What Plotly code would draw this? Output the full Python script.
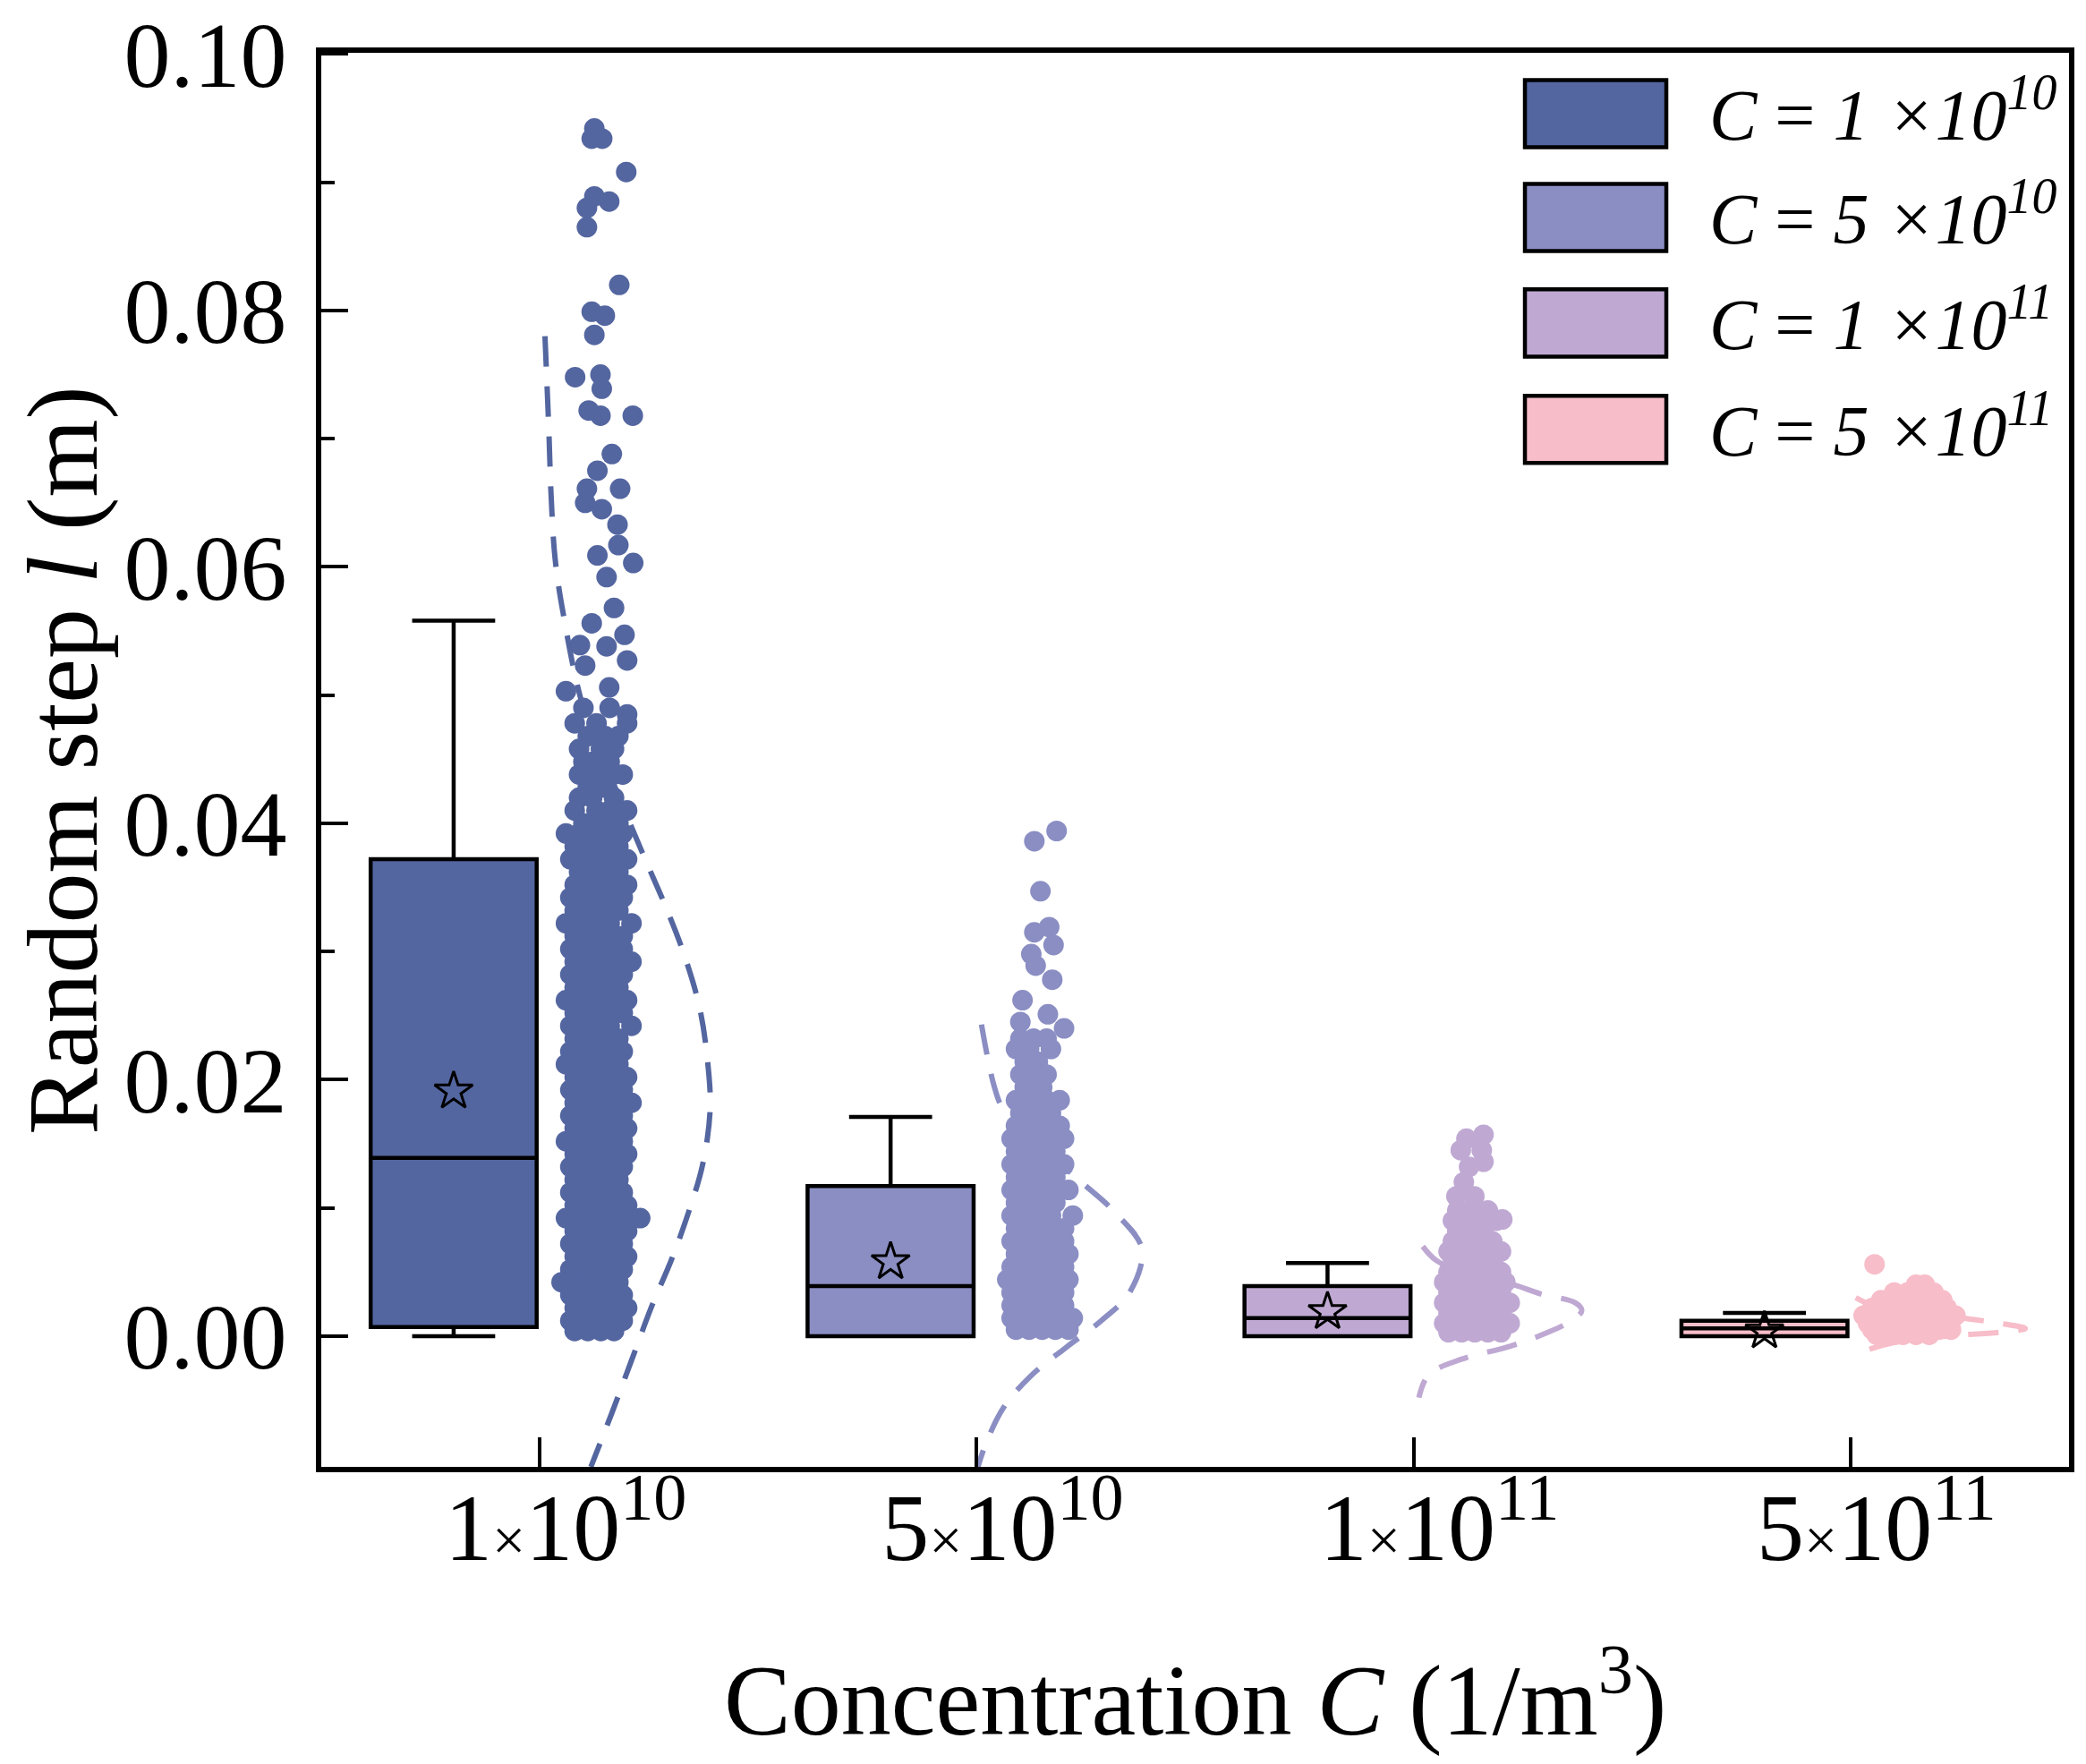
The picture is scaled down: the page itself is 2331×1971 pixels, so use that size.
import plotly.graph_objects as go

# categories: C = mantissa x 10^exponent (1/m^3)
mantissa = [1, 5, 1, 5]
exponent = [10, 10, 11, 11]
colors = ['#5466A0', '#8A8EC3', '#BFA9D3', '#F7BDC9']

# box statistics (m)
q1 = [0.0007, 0.0, 0.0, 0.0]
median = [0.0139, 0.0039, 0.0014, 0.0006]
q3 = [0.0372, 0.0117, 0.0039, 0.0012]
lower = [0.0, 0.0, 0.0, 0.0]
upper = [0.0558, 0.0171, 0.0057, 0.0018]
means = [0.0191, 0.0058, 0.0019, 0.0004]

# raw points, (offset from category, value); sparse tails point by point,
# dense cores row by row: (value, offsets...)
tail1 = [(0.125, 0.0942), (0.143, 0.0934), (0.119, 0.0934), (0.198, 0.0908),
         (0.125, 0.0889), (0.159, 0.0885), (0.108, 0.0880), (0.108, 0.0865),
         (0.182, 0.0820), (0.119, 0.0799), (0.149, 0.0796), (0.125, 0.0781),
         (0.081, 0.0748), (0.139, 0.0750), (0.142, 0.0739), (0.112, 0.0722),
         (0.139, 0.0718), (0.213, 0.0718), (0.165, 0.0688), (0.132, 0.0675),
         (0.184, 0.0661), (0.108, 0.0661), (0.104, 0.0650), (0.142, 0.0645),
         (0.178, 0.0633), (0.180, 0.0617), (0.132, 0.0609), (0.214, 0.0603),
         (0.153, 0.0592), (0.170, 0.0568), (0.119, 0.0556), (0.194, 0.0547),
         (0.092, 0.0539), (0.153, 0.0538), (0.200, 0.0527), (0.104, 0.0523),
         (0.060, 0.0503), (0.159, 0.0506), (0.200, 0.0485)]
core1 = [(0.0490, 0.10, 0.16), (0.0478, 0.08, 0.13, 0.20), (0.0468, 0.11, 0.15, 0.18),
         (0.0458, 0.09, 0.14, 0.17), (0.0448, 0.10, 0.12, 0.16), (0.0438, 0.09, 0.13, 0.17, 0.19),
         (0.0428, 0.11, 0.15), (0.0420, 0.09, 0.12, 0.17), (0.0410, 0.08, 0.13, 0.16, 0.20),
         (0.0400, 0.10, 0.14, 0.18), (0.0392, 0.06, 0.09, 0.12, 0.16, 0.19),
         (0.0382, 0.08, 0.11, 0.15, 0.18), (0.0372, 0.07, 0.10, 0.13, 0.17, 0.20),
         (0.0362, 0.09, 0.12, 0.15, 0.18), (0.0352, 0.08, 0.11, 0.14, 0.17, 0.20),
         (0.0342, 0.07, 0.10, 0.13, 0.16, 0.19), (0.0332, 0.08, 0.12, 0.15, 0.18),
         (0.0322, 0.06, 0.09, 0.12, 0.16, 0.21), (0.0312, 0.08, 0.11, 0.14, 0.17, 0.19),
         (0.0302, 0.07, 0.10, 0.13, 0.16, 0.19), (0.0292, 0.08, 0.11, 0.15, 0.18, 0.21),
         (0.0282, 0.07, 0.10, 0.13, 0.16, 0.19), (0.0272, 0.08, 0.12, 0.15, 0.18),
         (0.0262, 0.06, 0.09, 0.12, 0.16, 0.20), (0.0252, 0.08, 0.11, 0.14, 0.17, 0.19),
         (0.0242, 0.07, 0.10, 0.13, 0.16, 0.21), (0.0232, 0.08, 0.11, 0.15, 0.18),
         (0.0222, 0.07, 0.10, 0.13, 0.16, 0.19), (0.0212, 0.06, 0.09, 0.12, 0.15, 0.18),
         (0.0202, 0.08, 0.11, 0.14, 0.17, 0.20), (0.0192, 0.07, 0.10, 0.13, 0.16, 0.19),
         (0.0182, 0.08, 0.12, 0.15, 0.18, 0.21), (0.0172, 0.07, 0.10, 0.13, 0.16, 0.19),
         (0.0162, 0.08, 0.11, 0.14, 0.17, 0.20), (0.0152, 0.06, 0.09, 0.12, 0.16, 0.19),
         (0.0142, 0.08, 0.11, 0.14, 0.17, 0.20), (0.0132, 0.07, 0.10, 0.13, 0.16, 0.19),
         (0.0122, 0.08, 0.11, 0.15, 0.18), (0.0112, 0.07, 0.10, 0.13, 0.16, 0.19),
         (0.0102, 0.08, 0.11, 0.14, 0.17, 0.20), (0.0092, 0.06, 0.09, 0.12, 0.16, 0.19, 0.23),
         (0.0082, 0.08, 0.11, 0.14, 0.17, 0.20), (0.0072, 0.07, 0.10, 0.13, 0.16, 0.19),
         (0.0062, 0.08, 0.11, 0.14, 0.17, 0.20), (0.0052, 0.07, 0.10, 0.13, 0.16, 0.19),
         (0.0042, 0.05, 0.08, 0.11, 0.15, 0.18), (0.0032, 0.07, 0.10, 0.13, 0.16, 0.19),
         (0.0022, 0.08, 0.11, 0.14, 0.17, 0.20), (0.0012, 0.07, 0.10, 0.13, 0.16, 0.19),
         (0.0004, 0.08, 0.11, 0.14, 0.17)]

tail2 = [(0.132, 0.0386), (0.183, 0.0394), (0.146, 0.0347), (0.132, 0.0315),
         (0.166, 0.0319), (0.176, 0.0305), (0.125, 0.0298), (0.135, 0.0289),
         (0.173, 0.0278), (0.105, 0.0262), (0.163, 0.0251), (0.200, 0.0240),
         (0.100, 0.0245)]
core2 = [(0.0232, 0.10, 0.13, 0.16), (0.0224, 0.09, 0.12, 0.17), (0.0214, 0.11, 0.14),
         (0.0204, 0.10, 0.13, 0.16), (0.0194, 0.11, 0.15), (0.0184, 0.09, 0.12, 0.16, 0.19),
         (0.0174, 0.10, 0.13, 0.17), (0.0164, 0.09, 0.12, 0.15, 0.19),
         (0.0154, 0.08, 0.11, 0.14, 0.17, 0.20), (0.0144, 0.09, 0.12, 0.15, 0.18),
         (0.0134, 0.08, 0.11, 0.14, 0.17, 0.20), (0.0124, 0.09, 0.12, 0.15, 0.18),
         (0.0114, 0.08, 0.11, 0.14, 0.17, 0.21), (0.0104, 0.09, 0.12, 0.15, 0.18),
         (0.0094, 0.08, 0.11, 0.14, 0.17, 0.22), (0.0084, 0.09, 0.12, 0.15, 0.18, 0.20),
         (0.0074, 0.08, 0.11, 0.14, 0.17, 0.20), (0.0064, 0.09, 0.12, 0.15, 0.18, 0.21),
         (0.0054, 0.08, 0.11, 0.14, 0.17, 0.20), (0.0044, 0.07, 0.10, 0.13, 0.16, 0.19, 0.21),
         (0.0034, 0.08, 0.11, 0.14, 0.17, 0.20), (0.0024, 0.08, 0.11, 0.14, 0.17, 0.20),
         (0.0014, 0.08, 0.11, 0.14, 0.17, 0.20, 0.22), (0.0005, 0.09, 0.12, 0.15, 0.18, 0.21)]

tail3 = [(0.121, 0.0154), (0.160, 0.0157), (0.108, 0.0145), (0.156, 0.0145),
         (0.127, 0.0132), (0.160, 0.0136), (0.115, 0.0120), (0.098, 0.0109),
         (0.139, 0.0109), (0.203, 0.0091)]
core3 = [(0.0098, 0.10, 0.13, 0.17), (0.0090, 0.09, 0.12, 0.15, 0.19),
         (0.0082, 0.10, 0.13, 0.16), (0.0074, 0.09, 0.12, 0.15, 0.18),
         (0.0066, 0.08, 0.11, 0.14, 0.17, 0.20), (0.0058, 0.09, 0.12, 0.15, 0.18),
         (0.0050, 0.08, 0.11, 0.14, 0.17, 0.20), (0.0042, 0.07, 0.10, 0.13, 0.16, 0.19, 0.21),
         (0.0034, 0.08, 0.11, 0.14, 0.17, 0.20), (0.0026, 0.07, 0.10, 0.13, 0.16, 0.19, 0.22),
         (0.0018, 0.08, 0.11, 0.14, 0.17, 0.20), (0.0010, 0.07, 0.10, 0.13, 0.16, 0.19, 0.22),
         (0.0003, 0.08, 0.11, 0.14, 0.17, 0.20)]

tail4 = [(0.055, 0.0056)]
core4 = [(0.0040, 0.15, 0.17), (0.0034, 0.10, 0.13, 0.16, 0.19),
         (0.0028, 0.07, 0.10, 0.13, 0.16, 0.19, 0.21),
         (0.0022, 0.05, 0.08, 0.11, 0.14, 0.17, 0.20, 0.22),
         (0.0016, 0.03, 0.06, 0.09, 0.12, 0.15, 0.18, 0.21, 0.24),
         (0.0010, 0.04, 0.07, 0.10, 0.13, 0.16, 0.19, 0.22),
         (0.0005, 0.05, 0.08, 0.11, 0.14, 0.17, 0.20, 0.23),
         (0.0001, 0.06, 0.09, 0.12, 0.15, 0.18)]

# fitted distribution curves: value, offset from category
curve1_y = [0.0780, 0.0705, 0.0656, 0.0607, 0.0565, 0.0490, 0.0430, 0.0373, 0.0336,
            0.0298, 0.0256, 0.0215, 0.0177, 0.0134, 0.0097, 0.0060, 0.0023, -0.0019,
            -0.0060, -0.0102]
curve1_dx = [0.012, 0.021, 0.026, 0.035, 0.053, 0.100, 0.170, 0.240, 0.287,
             0.330, 0.366, 0.384, 0.390, 0.373, 0.341, 0.302, 0.256, 0.210,
             0.165, 0.117]
curve2_y = [0.0243, 0.0195, 0.0177, 0.0150, 0.0120, 0.0096, 0.0068, 0.0034, 0.0012,
            -0.0009, -0.0031, -0.0056, -0.0084, -0.0102]
curve2_dx = [0.011, 0.040, 0.061, 0.140, 0.240, 0.318, 0.378, 0.350, 0.285,
             0.204, 0.124, 0.061, 0.021, 0.003]
curve3_y = [0.0070, 0.0059, 0.0048, 0.0040, 0.0033, 0.0026, 0.0020, 0.0013, 0.0003,
            -0.0008, -0.0018, -0.0030, -0.0048]
curve3_dx = [0.021, 0.052, 0.130, 0.230, 0.290, 0.370, 0.385, 0.366, 0.308,
             0.220, 0.110, 0.035, 0.012]
curve4_y = [0.0030, 0.0024, 0.0018, 0.0013, 0.0009, 0.0006, 0.0003, 0.0000, -0.0005,
            -0.0010, -0.0014]
curve4_dx = [0.012, 0.050, 0.150, 0.280, 0.360, 0.400, 0.340, 0.220, 0.100,
             0.046, 0.018]

y_ticks = [0.0, 0.02, 0.04, 0.06, 0.08, 0.10]
y_minor = [0.01, 0.03, 0.05, 0.07, 0.09]

tails = [tail1, tail2, tail3, tail4]
cores = [core1, core2, core3, core4]
curves = [(curve1_y, curve1_dx), (curve2_y, curve2_dx),
          (curve3_y, curve3_dx), (curve4_y, curve4_dx)]

FONT = 'Liberation Serif'
BOX_OFFSET = -0.197
positions = [1, 2, 3, 4]

fig = go.Figure()

for i, pos in enumerate(positions):
    fig.add_trace(go.Box(
        x=[pos + BOX_OFFSET], q1=[q1[i]], median=[median[i]], q3=[q3[i]],
        lowerfence=[lower[i]], upperfence=[upper[i]],
        width=0.38, whiskerwidth=0.5, boxpoints=False,
        fillcolor=colors[i], line=dict(color='black', width=4.5),
        showlegend=False, hoverinfo='skip'))

for i, pos in enumerate(positions):
    cy, cdx = curves[i]
    fig.add_trace(go.Scatter(
        x=[pos + d for d in cdx], y=cy, mode='lines',
        line=dict(color=colors[i], width=6, dash='34px,22px', shape='spline'),
        showlegend=False, hoverinfo='skip'))

for i, pos in enumerate(positions):
    xs, ys = [], []
    for d, v in tails[i]:
        xs.append(pos + d)
        ys.append(v)
    for row in cores[i]:
        for d in row[1:]:
            xs.append(pos + d)
            ys.append(row[0])
    fig.add_trace(go.Scatter(
        x=xs, y=ys, mode='markers',
        marker=dict(color=colors[i], size=23, line=dict(width=0)),
        showlegend=False, hoverinfo='skip'))

fig.add_trace(go.Scatter(
    x=[p + BOX_OFFSET for p in positions], y=means, mode='markers',
    marker=dict(symbol='star-open', size=32, color='black', line=dict(width=3, color='black')),
    showlegend=False, hoverinfo='skip'))

# the mantissa part sits centred on the tick, the exponent hangs to the right;
# a transparent pad on the left keeps it that way
tick_text = ['<span style="color:rgba(0,0,0,0);font-size:58px">10</span>'
             '%d<span style="font-size:66px">×</span>10<sup>%d</sup>' % (m, e)
             for m, e in zip(mantissa, exponent)]

fig.update_xaxes(
    range=[0.5, 4.5], tickvals=positions, ticktext=tick_text,
    ticks='inside', ticklen=33, tickwidth=4, tickcolor='black',
    ticklabelstandoff=-29, automargin=False,
    showline=True, linewidth=5.5, linecolor='black', mirror=True,
    showgrid=False, zeroline=False,
    tickfont=dict(family=FONT, size=106, color='black'))

fig.update_yaxes(
    range=[-0.0102, 0.1001], tickvals=y_ticks, ticktext=['%.2f' % v for v in y_ticks],
    ticks='inside', ticklen=30, tickwidth=4, tickcolor='black',
    ticklabelstandoff=12, ticklabeloverflow='allow', automargin=False,
    minor=dict(tickvals=y_minor, ticks='inside', ticklen=15, tickwidth=4,
               tickcolor='black', showgrid=False),
    showline=True, linewidth=5.5, linecolor='black', mirror=True,
    showgrid=False, zeroline=False,
    tickfont=dict(family=FONT, size=104, color='black'))

# axis titles
fig.add_annotation(text='Random step <i>l</i> (m)', xref='paper', yref='paper',
                   x=-0.148, y=0.5, textangle=-90, showarrow=False,
                   xanchor='center', yanchor='middle',
                   font=dict(family=FONT, size=112, color='black'))
fig.add_annotation(text='Concentration <i>C</i> (1/m<sup>3</sup>)', xref='paper', yref='paper',
                   x=0.5, y=-0.160, showarrow=False, xanchor='center', yanchor='middle',
                   font=dict(family=FONT, size=112, color='black'))

# legend drawn by hand (large swatches)
leg_top = [0.9807, 0.9073, 0.8327, 0.7574]
for i in range(4):
    y1 = leg_top[i]
    y0 = y1 - 0.0475
    fig.add_shape(type='rect', xref='paper', yref='paper', x0=0.6887, x1=0.7696,
                  y0=y0, y1=y1, fillcolor=colors[i], line=dict(color='black', width=4.5))
    fig.add_annotation(
        text='<i>C</i> = <i>%d ×10<sup>%d</sup></i>' % (mantissa[i], exponent[i]),
        xref='paper', yref='paper', x=0.7931, y=(y0 + y1) / 2 + 0.003,
        xanchor='left', yanchor='middle', showarrow=False,
        font=dict(family=FONT, size=80, color='black'))

# the page adds an 8px body margin, so margins are shifted by that amount
fig.update_layout(
    width=2331, height=1971,
    margin=dict(l=351, r=27, t=51, b=340),
    plot_bgcolor='white', paper_bgcolor='white',
    showlegend=False)

fig.write_html('out.html')
